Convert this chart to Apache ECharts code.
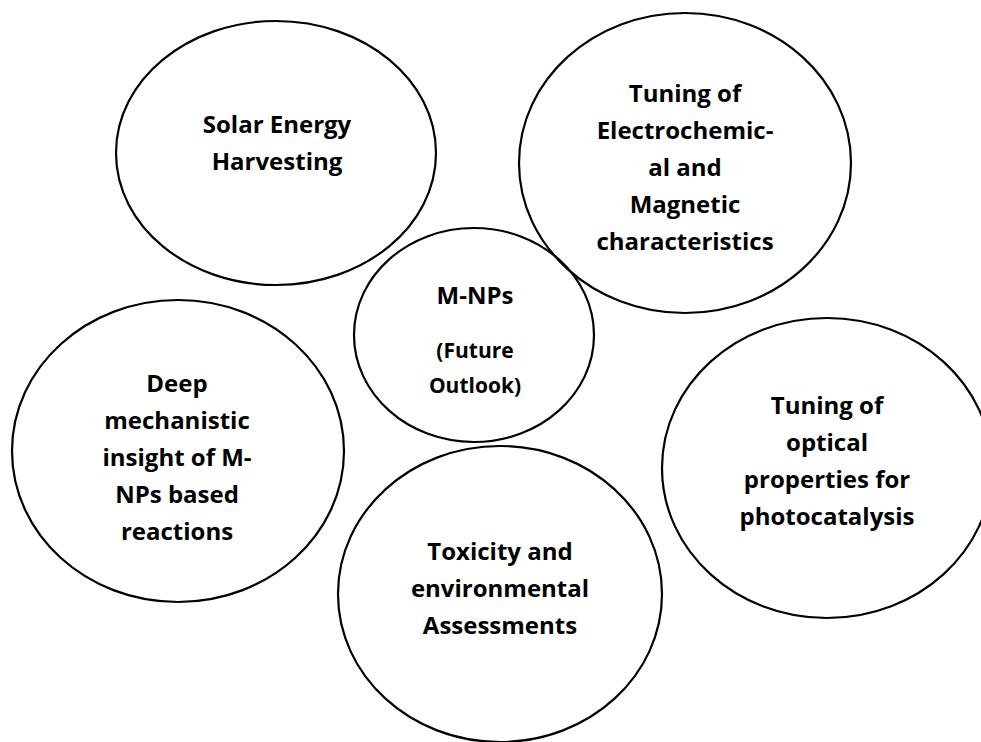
<!DOCTYPE html>
<html>
<head>
<meta charset="utf-8">
<script src="https://cdn.jsdelivr.net/npm/echarts@6/dist/echarts.min.js"></script>
<style>
  html, body { margin: 0; padding: 0; background: #ffffff; }
  #chart { width: 981px; height: 742px; }
</style>
</head>
<body>
<div id="chart"></div>
<script>
// Diagram data (page pixel units used as axis units)
const categories = [
  'Solar Energy Harvesting',
  'Tuning of Electrochemical and Magnetic characteristics',
  'M-NPs (Future Outlook)',
  'Deep mechanistic insight of M-NPs based reactions',
  'Toxicity and environmental Assessments',
  'Tuning of optical properties for photocatalysis'
];
const centerX = [276, 685, 474, 178, 500, 827];
const centerY = [153, 163, 335, 451, 594, 468];
const radiusX = [160, 166, 120, 166, 162, 165];
const radiusY = [132, 150, 107, 151, 148, 150];
const labelX  = [277, 685, 475, 177, 500, 827];
const labelY  = [142, 166, 339, 456, 587, 460];
const labelLines = [
  ['Solar Energy', 'Harvesting'],
  ['Tuning of', 'Electrochemic-', 'al and', 'Magnetic', 'characteristics'],
  ['M-NPs', '', '(Future', 'Outlook)'],
  ['Deep', 'mechanistic', 'insight of M-', 'NPs based', 'reactions'],
  ['Toxicity and', 'environmental', 'Assessments'],
  ['Tuning of', 'optical', 'properties for', 'photocatalysis']
];

const W = 981, H = 742;
const data = categories.map((c, i) => [centerX[i], centerY[i], radiusX[i], radiusY[i], labelX[i], labelY[i], i]);

function richText(i) {
  const lines = labelLines[i];
  if (i === 2) {
    return '{a|' + lines[0] + '}\n{gap| }\n{b|' + lines[2] + '}\n{b|' + lines[3] + '}';
  }
  return lines.map(l => '{a|' + l + '}').join('\n');
}

const FONT = '"Open Sans", "Noto Sans", sans-serif';
const chart = echarts.init(document.getElementById('chart'), null, { renderer: 'svg' });
chart.setOption({
  backgroundColor: '#ffffff',
  animation: false,
  grid: { left: 0, right: 0, top: 0, bottom: 0 },
  xAxis: { type: 'value', min: 0, max: W, show: false },
  yAxis: { type: 'value', min: 0, max: H, inverse: true, show: false },
  series: [{
    type: 'custom',
    coordinateSystem: 'cartesian2d',
    clip: true,
    data: data,
    encode: { x: 0, y: 1 },
    renderItem: function (params, api) {
      const c = api.coord([api.value(0), api.value(1)]);
      const s = api.size([api.value(2), api.value(3)]);
      const t = api.coord([api.value(4), api.value(5)]);
      const i = api.value(6);
      return {
        type: 'group',
        children: [
          {
            type: 'ellipse',
            shape: { cx: c[0], cy: c[1], rx: s[0], ry: s[1] },
            style: { fill: 'none', stroke: '#000000', lineWidth: 2.2 }
          },
          {
            type: 'text',
            x: t[0], y: t[1],
            style: {
              text: richText(i),
              align: 'center',
              verticalAlign: 'middle',
              fill: '#000000',
              rich: {
                a: { fontFamily: FONT, fontWeight: 'bold', fontSize: 24, lineHeight: 37, fill: '#000', align: 'center' },
                gap: { fontFamily: FONT, fontSize: 10, lineHeight: 20, align: 'center' },
                b: { fontFamily: FONT, fontWeight: 'bold', fontSize: 21, lineHeight: 35, fill: '#000', align: 'center' }
              }
            }
          }
        ]
      };
    }
  }]
});
</script>
</body>
</html>
